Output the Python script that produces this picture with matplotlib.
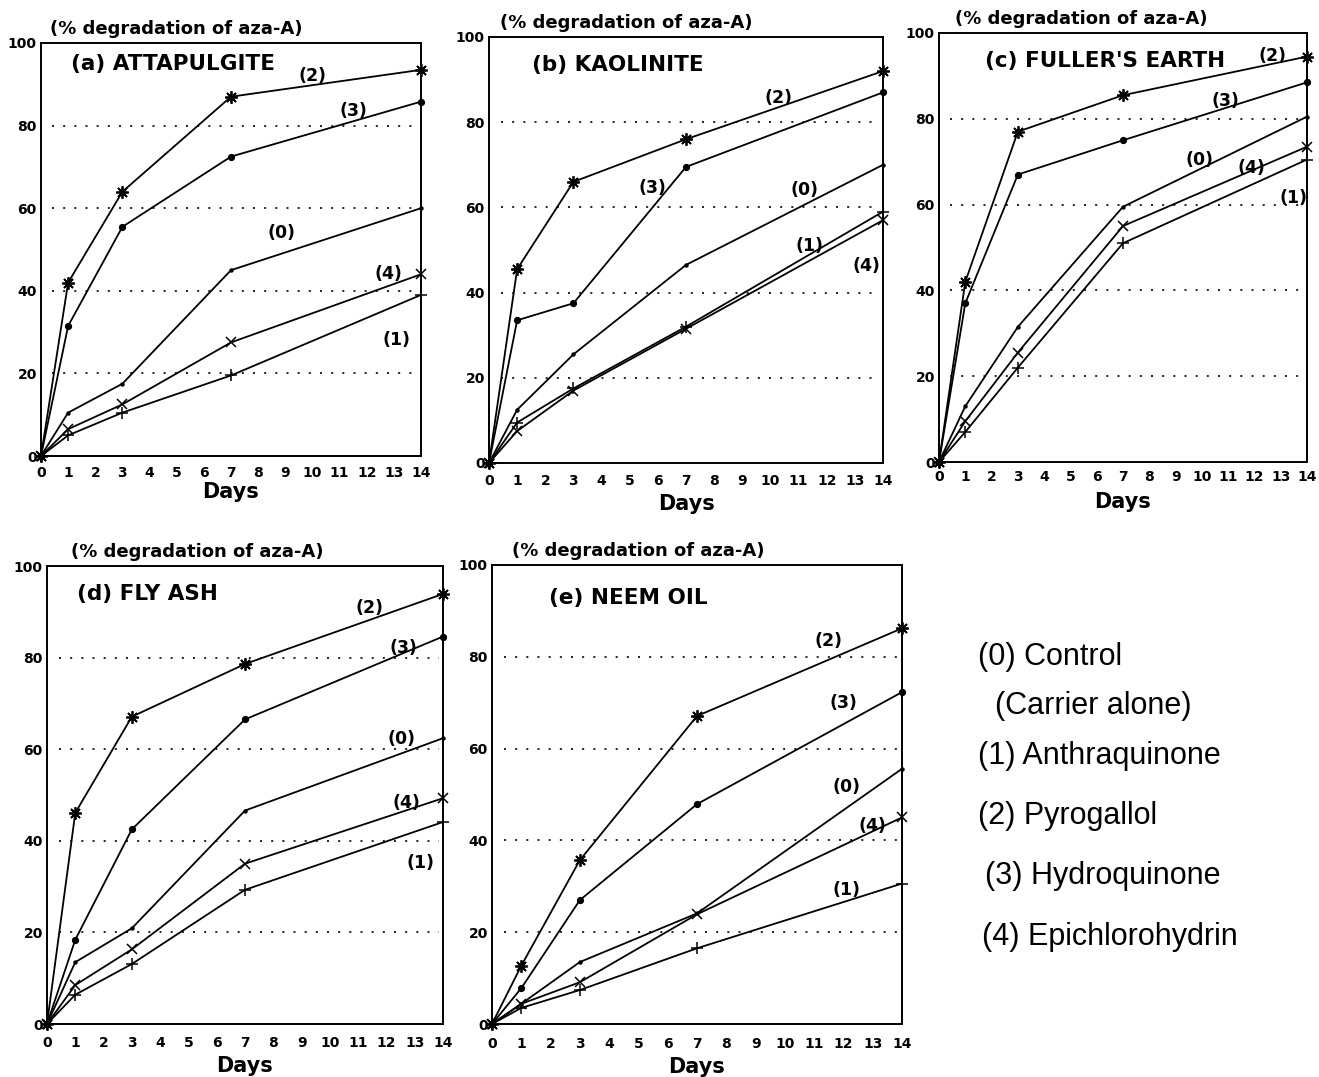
import matplotlib
matplotlib.use("Agg")
import matplotlib.pyplot as plt

# ---------------- data ----------------
days = [0, 1, 3, 7, 14]
x_ticks = list(range(0, 15))
y_ticks = [0, 20, 40, 60, 80, 100]
series_ids = ["(0)", "(1)", "(2)", "(3)", "(4)"]

panel_titles = ["(a) ATTAPULGITE", "(b) KAOLINITE", "(c) FULLER'S EARTH",
                "(d) FLY ASH", "(e) NEEM OIL"]
y_title = "(% degradation of aza-A)"
x_title = "Days"

# (a) Attapulgite
a_control = [0, 10.5, 17.5, 45.0, 60.0]
a_anthraquinone = [0, 5.0, 10.5, 19.5, 39.0]
a_pyrogallol = [0, 42.0, 64.0, 87.0, 93.5]
a_hydroquinone = [0, 31.5, 55.5, 72.5, 85.8]
a_epichlorohydrin = [0, 6.5, 12.5, 27.5, 44.0]

# (b) Kaolinite
b_control = [0, 12.5, 25.5, 46.5, 70.0]
b_anthraquinone = [0, 9.5, 17.5, 32.0, 59.0]
b_pyrogallol = [0, 45.5, 66.0, 76.0, 92.0]
b_hydroquinone = [0, 33.5, 37.5, 69.5, 87.0]
b_epichlorohydrin = [0, 7.5, 17.0, 31.5, 57.0]

# (c) Fuller's earth
c_control = [0, 13.0, 31.5, 59.5, 80.5]
c_anthraquinone = [0, 7.0, 22.0, 51.0, 70.5]
c_pyrogallol = [0, 42.0, 77.0, 85.5, 94.5]
c_hydroquinone = [0, 37.0, 67.0, 75.0, 88.5]
c_epichlorohydrin = [0, 9.5, 25.5, 55.0, 73.5]

# (d) Fly ash
d_control = [0, 13.5, 20.9, 46.6, 62.4]
d_anthraquinone = [0, 6.4, 13.1, 29.3, 44.1]
d_pyrogallol = [0, 46.1, 67.1, 78.6, 93.9]
d_hydroquinone = [0, 18.4, 42.5, 66.5, 84.6]
d_epichlorohydrin = [0, 8.5, 16.3, 35.0, 49.3]

# (e) Neem oil
e_control = [0, 4.4, 13.5, 24.1, 55.6]
e_anthraquinone = [0, 3.5, 7.4, 16.5, 30.6]
e_pyrogallol = [0, 12.7, 35.7, 67.1, 86.2]
e_hydroquinone = [0, 7.8, 27.0, 47.9, 72.3]
e_epichlorohydrin = [0, 4.4, 9.1, 23.9, 45.0]

panel_series = [
    [a_control, a_anthraquinone, a_pyrogallol, a_hydroquinone, a_epichlorohydrin],
    [b_control, b_anthraquinone, b_pyrogallol, b_hydroquinone, b_epichlorohydrin],
    [c_control, c_anthraquinone, c_pyrogallol, c_hydroquinone, c_epichlorohydrin],
    [d_control, d_anthraquinone, d_pyrogallol, d_hydroquinone, d_epichlorohydrin],
    [e_control, e_anthraquinone, e_pyrogallol, e_hydroquinone, e_epichlorohydrin],
]

legend_lines = ["(0) Control", "(Carrier alone)", "(1) Anthraquinone",
                "(2) Pyrogallol", "(3) Hydroquinone", "(4) Epichlorohydrin"]

# ---------------- layout / style ----------------
W, H = 1319, 1077
# axes boxes in pixels: left, right, top, bottom
boxes_px = [(41, 421, 43, 456), (489, 883, 37, 463), (939, 1307, 33, 462),
            (47, 443, 566, 1024), (492, 902, 565, 1024)]
title_pos = [(0.08, 0.948), (0.108, 0.935), (0.124, 0.934), (0.077, 0.939), (0.138, 0.928)]
ytitle_x = [0.024, 0.028, 0.043, 0.06, 0.05]
tick_pads = [7.5, 8.0, 6.0, 8.5, 9.0]
xlabel_pads = [1.5, 4.0, 5.5, 4.5, 5.0]

# series label positions (data coords), order (0),(1),(2),(3),(4)
label_pos = [
    [(8.85, 54.0), (13.1, 28.2), (10.0, 91.9), (11.5, 83.5), (12.8, 44.0)],
    [(11.2, 64.2), (11.4, 50.9), (10.3, 85.7), (5.8, 64.6), (13.4, 46.2)],
    [(9.9, 70.3), (13.5, 61.6), (12.7, 94.6), (10.9, 84.1), (11.9, 68.6)],
    [(12.55, 62.3), (13.2, 35.2), (11.4, 90.9), (12.6, 82.1), (12.7, 48.2)],
    [(12.1, 51.7), (12.1, 29.1), (11.5, 83.5), (12.0, 70.0), (13.0, 43.1)],
]

marker_styles = [
    dict(marker='o', ms=2.2, mfc='black'),          # (0) control: tiny dot
    dict(marker='+', ms=8, mew=1.1),                # (1) anthraquinone
    dict(marker=(8, 2, 0), ms=9, mew=1.3),          # (2) pyrogallol: asterisk
    dict(marker='o', ms=4.2, mfc='black'),          # (3) hydroquinone: dot
    dict(marker='x', ms=7, mew=1.1),                # (4) epichlorohydrin
]

bold_font = "DejaVu Sans"
label_font = "Liberation Sans"

fig = plt.figure(figsize=(W / 100, H / 100), dpi=100)

for i, (l, r, t, b) in enumerate(boxes_px):
    ax = fig.add_axes([l / W, (H - b) / H, (r - l) / W, (b - t) / H])
    for s, vals in enumerate(panel_series[i]):
        ax.plot(days, vals, color='black', lw=1.3, clip_on=False, zorder=3,
                **marker_styles[s])
        lx, ly = label_pos[i][s]
        ax.text(lx, ly, series_ids[s], ha='center', va='center',
                fontsize=12.5, fontweight='bold', family=bold_font)
    ax.set_xlim(0, 14)
    ax.set_ylim(0, 100)
    ax.set_xticks(x_ticks)
    ax.set_yticks(y_ticks)
    for yv in y_ticks[1:-1]:
        ax.axhline(yv, xmin=0.03, xmax=0.99, color='black', lw=1.2,
                   ls=(0, (1.2, 5.5)), zorder=1)
    ax.tick_params(axis='x', length=0, pad=tick_pads[i], labelsize=10)
    ax.tick_params(axis='y', length=0, pad=3, labelsize=10)
    for lab in ax.get_xticklabels() + ax.get_yticklabels():
        lab.set_fontweight('bold')
        lab.set_family(bold_font)
    for sp in ax.spines.values():
        sp.set_linewidth(1.4)
    ax.set_xlabel(x_title, fontsize=15, fontweight='bold', family=bold_font,
                  labelpad=xlabel_pads[i])
    tx, ty = title_pos[i]
    ax.text(tx, ty, panel_titles[i], transform=ax.transAxes, ha='left',
            va='center', fontsize=15.5, fontweight='bold', family=bold_font)
    ax.annotate(y_title, xy=(ytitle_x[i], 1.0), xycoords='axes fraction',
                xytext=(0, 9.8), textcoords='offset points', ha='left',
                va='center', fontsize=13, fontweight='bold', family=bold_font)

legend_xy_px = [(978, 657), (995, 706), (978, 756), (978, 816), (985, 876), (982, 937)]
for txt, (px, py) in zip(legend_lines, legend_xy_px):
    fig.text(px / W, (H - py) / H, txt, ha='left', va='center', fontsize=22,
             family=label_font)

fig.savefig("out.png", dpi=100)
